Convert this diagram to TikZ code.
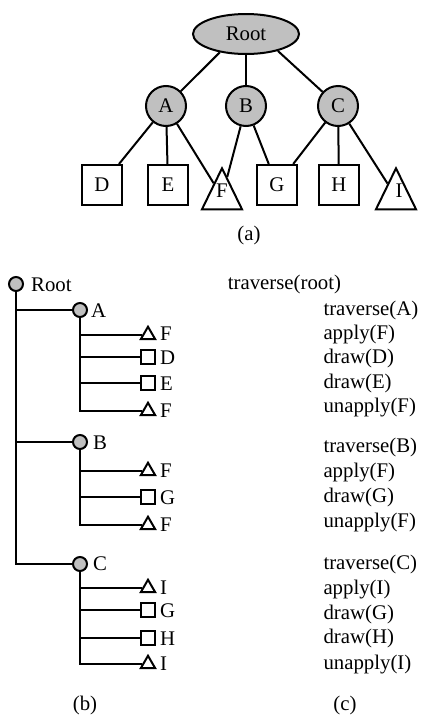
\documentclass[tikz,border=0pt]{standalone}
\usepackage{fontspec}
\setmainfont{Liberation Serif}
\usetikzlibrary{shapes.geometric}
\definecolor{ngray}{RGB}{192,192,192}
\begin{document}
\begin{tikzpicture}[x=1pt,y=-1pt,
  every node/.style={font=\fontsize{20.8}{24}\selectfont, inner sep=0pt},
  edge/.style={line width=2pt},
  ell/.style={ellipse, draw, line width=2pt, fill=ngray, minimum width=106pt, minimum height=40pt},
  bigc/.style={circle, draw, line width=2pt, fill=ngray, minimum size=40pt},
  bigsq/.style={rectangle, draw, line width=2pt, fill=white, minimum size=40pt},
  bigtri/.style={isosceles triangle, isosceles triangle apex angle=52, shape border rotate=90, draw, line width=2pt, fill=white, minimum width=40pt, minimum height=41pt, anchor=apex},
  smc/.style={circle, draw, line width=2pt, fill=ngray, minimum size=14pt},
  smsq/.style={rectangle, draw, line width=2pt, fill=white, minimum size=14pt},
  smtri/.style={regular polygon, regular polygon sides=3, draw, line width=2pt, fill=white, minimum size=16.5pt},
  lbl/.style={anchor=base west},
  captxt/.style={anchor=center}
]
\useasboundingbox (0,0) rectangle (425,718);

% ---------- (a) ----------
\node[ell] (R) at (246,34) {Root};
\node[bigc] (A) at (166,106) {A};
\node[bigc] (B) at (246,106) {B};
\node[bigc] (C) at (338,106) {C};
\node[bigsq] (D) at (102,185) {D};
\node[bigsq] (E) at (168,185) {E};
\node[bigsq] (G) at (277,185) {G};
\node[bigsq] (H) at (339,185) {H};
\node[bigtri] (F) at (222,166) {};
\node[bigtri] (I) at (396,166) {};
\node (Fl) at (222,191) {F};
\node (Il) at (399,191) {I};

\draw[edge] (R.215) -- (A);
\draw[edge] (R) -- (B);
\draw[edge] (R.-28) -- (C);
\draw[edge] (A) -- (D);
\draw[edge] (A) -- (E);
\draw[edge] (A) -- (F);
\draw[edge] (B) -- (F);
\draw[edge] (B) -- (G);
\draw[edge] (C) -- (G);
\draw[edge] (C) -- (H);
\draw[edge] (C) -- (I);

\node[captxt] (capa) at (249,235) {(a)};

% ---------- (b) ----------
\node[smc] (rb) at (16,284) {};
\node[smc] (ab) at (80,310) {};
\node[smc] (bb) at (80,442) {};
\node[smc] (cb) at (80,564) {};

\node[smtri] (a1) at (148,335) {};
\node[smsq]  (a2) at (148,357) {};
\node[smsq]  (a3) at (148,383) {};
\node[smtri] (a4) at (148,411) {};

\node[smtri] (b1) at (148,471) {};
\node[smsq]  (b2) at (148,497) {};
\node[smtri] (b3) at (148,525) {};

\node[smtri] (c1) at (148,588) {};
\node[smsq]  (c2) at (148,610) {};
\node[smsq]  (c3) at (148,638) {};
\node[smtri] (c4) at (148,664) {};

\draw[edge] (rb) |- (ab);
\draw[edge] (rb) |- (bb);
\draw[edge] (rb) |- (cb);
\foreach \c in {a1,a2,a3,a4} \draw[edge] (ab) |- (\c);
\foreach \c in {b1,b2,b3} \draw[edge] (bb) |- (\c);
\foreach \c in {c1,c2,c3,c4} \draw[edge] (cb) |- (\c);

\node[lbl] (lrb) at (31,291) {Root};
\node[lbl] (lab) at (91,317) {A};
\node[lbl] (lbb) at (93,449.5) {B};
\node[lbl] (lcb) at (93,570.5) {C};
\node[lbl] (la1) at (160,340.5) {F};
\node[lbl] (la2) at (160,364) {D};
\node[lbl] (la3) at (160,390) {E};
\node[lbl] (la4) at (160,417) {F};
\node[lbl] (lb1) at (160,477) {F};
\node[lbl] (lb2) at (160,504) {G};
\node[lbl] (lb3) at (160,531) {F};
\node[lbl] (lc1) at (160,594) {I};
\node[lbl] (lc2) at (160,617) {G};
\node[lbl] (lc3) at (160,645) {H};
\node[lbl] (lc4) at (160,670) {I};

\node[captxt] (capb) at (85,705) {(b)};

% ---------- (c) ----------
\node[lbl] (t0) at (227.7,289) {traverse(root)};
\node[lbl] (t1) at (323.3,315.5) {traverse(A)};
\node[lbl] (t2) at (323.3,339) {apply(F)};
\node[lbl] (t3) at (323.3,363.5) {draw(D)};
\node[lbl] (t4) at (323.3,388) {draw(E)};
\node[lbl] (t5) at (323.3,412) {unapply(F)};
\node[lbl] (t6) at (323.3,452.5) {traverse(B)};
\node[lbl] (t7) at (323.3,477.5) {apply(F)};
\node[lbl] (t8) at (323.3,502) {draw(G)};
\node[lbl] (t9) at (323.3,527) {unapply(F)};
\node[lbl] (t10) at (323.3,569) {traverse(C)};
\node[lbl] (t11) at (323.3,594.5) {apply(I)};
\node[lbl] (t12) at (323.3,619) {draw(G)};
\node[lbl] (t13) at (323.3,643.5) {draw(H)};
\node[lbl] (t14) at (323.3,669) {unapply(I)};

\node[captxt] (capc) at (345,705) {(c)};
\end{tikzpicture}
\end{document}
